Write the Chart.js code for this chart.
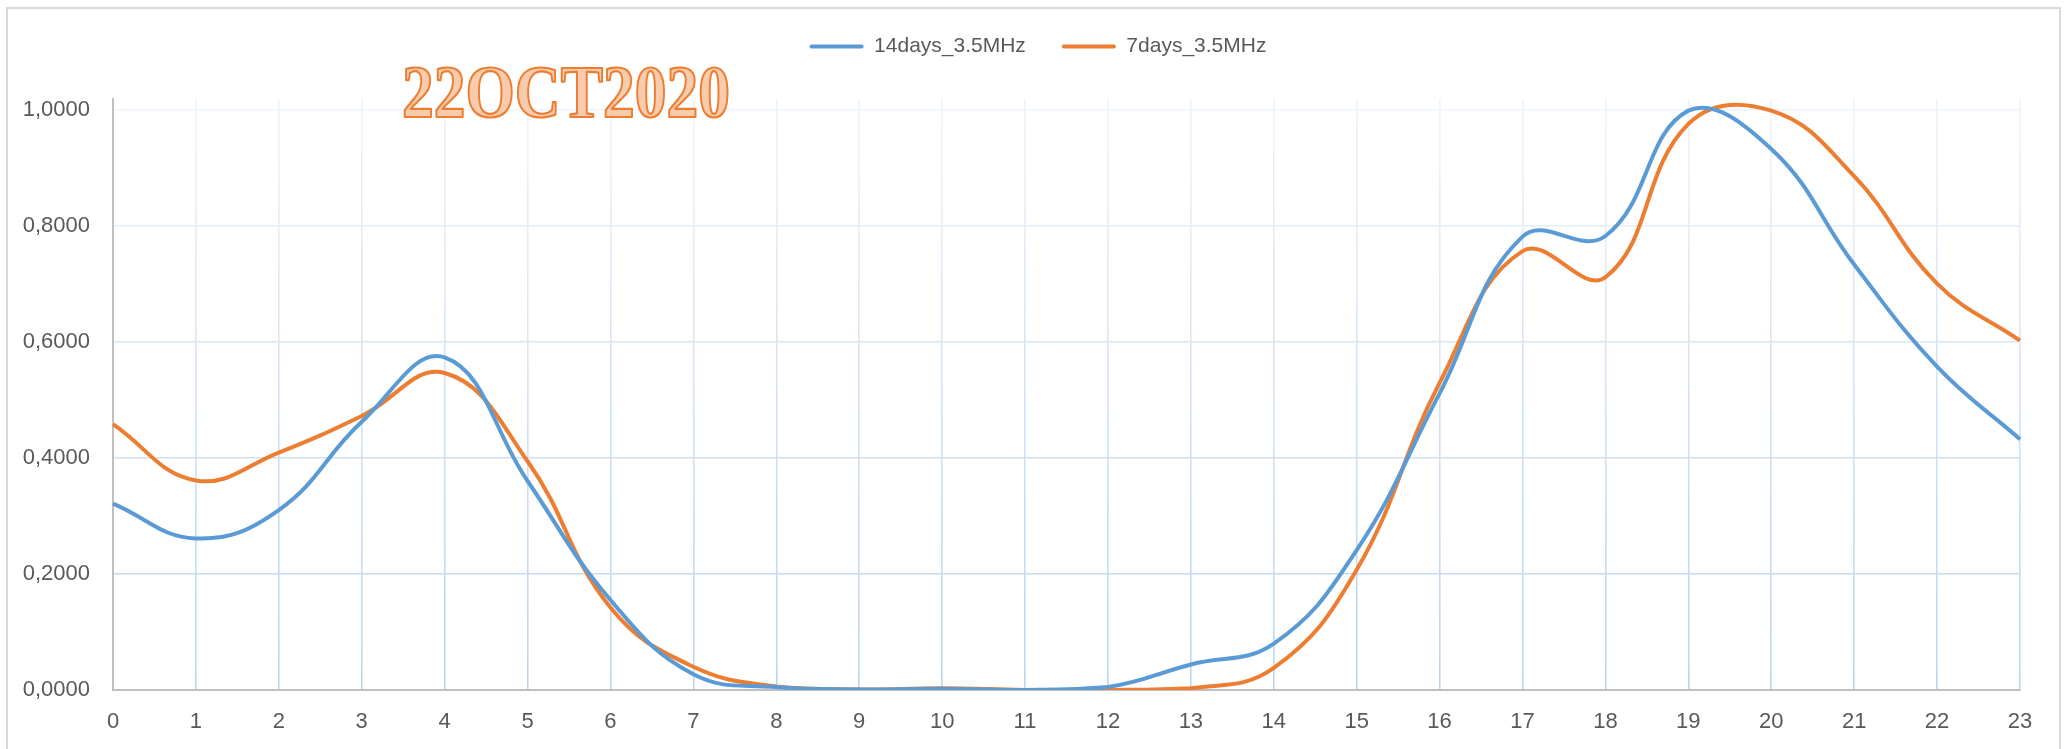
<!DOCTYPE html>
<html>
<head>
<meta charset="utf-8">
<title>22OCT2020</title>
<script src="https://cdn.jsdelivr.net/npm/chart.js@4.4.1/dist/chart.umd.min.js"></script>
<style>
  html, body { margin: 0; padding: 0; background: #ffffff; overflow: hidden; }
  #wrap { position: absolute; left: 0; top: 0; width: 2067px; height: 749px; }
  #frame { position: absolute; left: 6px; top: 7px; width: 2055px; height: 800px;
           border: 2px solid #D9D9D9; box-sizing: border-box; pointer-events: none; }
</style>
</head>
<body>
<div id="wrap">
  <canvas id="chart" width="2067" height="749"></canvas>
  <div id="frame"></div>
</div>
<script>
// hours of the day
const hours = ['0','1','2','3','4','5','6','7','8','9','10','11','12','13','14','15','16','17','18','19','20','21','22','23'];

// series values
const days14 = [0.321, 0.261, 0.310, 0.462, 0.573, 0.360, 0.155, 0.027, 0.005, 0.001, 0.002, 0.000,
                0.005, 0.044, 0.080, 0.241, 0.511, 0.781, 0.782, 0.998, 0.932, 0.733, 0.557, 0.432];
const days7  = [0.458, 0.361, 0.409, 0.472, 0.546, 0.394, 0.142, 0.040, 0.006, 0.001, 0.003, 0.000,
                0.000, 0.003, 0.038, 0.207, 0.529, 0.756, 0.711, 0.975, 0.998, 0.885, 0.700, 0.602];

// y tick labels
const yTicks = [0, 0.2, 0.4, 0.6, 0.8, 1.0];

const seriesNames = ['14days_3.5MHz', '7days_3.5MHz'];
const seriesColors = ['#5B9BD5', '#ED7D31'];
const titleText = '22OCT2020';

// grid gets lighter towards the top, like the original
function gridGradient(ctx) {
    const chart = ctx.chart;
    const area = chart.chartArea;
    if (!area) return '#CFE0F2';
    const g = chart.ctx.createLinearGradient(0, area.top, 0, area.bottom);
    g.addColorStop(0, '#EEF4FB');
    g.addColorStop(0.5, '#D3E3F3');
    g.addColorStop(1, '#BCD5EE');
    return g;
}

// stamp title, drawn like a word-art text box
const titlePlugin = {
    id: 'stampTitle',
    afterDraw(chart) {
        const ctx = chart.ctx;
        ctx.save();
        ctx.font = 'bold 73px "Liberation Serif", "DejaVu Serif", serif';
        ctx.textBaseline = 'alphabetic';
        const w = ctx.measureText(titleText).width;
        ctx.translate(402, 117);
        ctx.scale(328 / w, 1);
        ctx.fillStyle = '#F8CBAD';
        ctx.fillText(titleText, 0, 0);
        ctx.lineWidth = 2.2;
        ctx.strokeStyle = '#ED7D31';
        ctx.lineJoin = 'round';
        ctx.strokeText(titleText, 0, 0);
        ctx.restore();
    }
};

// fix the legend height so the plot starts at the right place,
// and nudge it a little to the right like the original
const legendPlugin = {
    id: 'legendTweak',
    beforeInit(chart) {
        const legend = chart.legend;
        const origFit = legend.fit;
        legend.fit = function fit() {
            origFit.bind(legend)();
            this.height = 99;
        };
        const origDraw = legend.draw;
        legend.draw = function draw() {
            chart.ctx.save();
            chart.ctx.translate(28, 0);
            origDraw.bind(legend)();
            chart.ctx.restore();
        };
    }
};

const ctx = document.getElementById('chart').getContext('2d');
new Chart(ctx, {
    type: 'line',
    data: {
        labels: hours,
        datasets: [
            {
                label: seriesNames[0],
                data: days14,
                borderColor: seriesColors[0],
                backgroundColor: seriesColors[0],
                borderWidth: 4,
                pointRadius: 0,
                tension: 0.42,
                fill: false
            },
            {
                label: seriesNames[1],
                data: days7,
                borderColor: seriesColors[1],
                backgroundColor: seriesColors[1],
                borderWidth: 4,
                pointRadius: 0,
                tension: 0.42,
                fill: false
            }
        ]
    },
    options: {
        responsive: false,
        animation: false,
        devicePixelRatio: 1,
        layout: { padding: { top: 0, left: 0, right: 47, bottom: 0 } },
        plugins: {
            tooltip: { enabled: false },
            legend: {
                display: true,
                position: 'top',
                labels: {
                    boxWidth: 54,
                    boxHeight: 4,
                    padding: 36,
                    color: '#595959',
                    font: { family: '"Liberation Sans", Arial, sans-serif', size: 21 },
                    generateLabels(chart) {
                        const items = Chart.defaults.plugins.legend.labels.generateLabels(chart);
                        items.forEach(it => {
                            it.fillStyle = it.strokeStyle;
                            it.lineWidth = 0;
                            it.borderRadius = 2;
                        });
                        return items;
                    }
                }
            }
        },
        scales: {
            x: {
                type: 'category',
                offset: false,
                grid: {
                    color: gridGradient,
                    lineWidth: 1.6,
                    drawTicks: false
                },
                border: { color: '#BFBFBF', width: 2 },
                ticks: {
                    color: '#595959',
                    padding: 19,
                    maxRotation: 0,
                    autoSkip: false,
                    font: { family: '"Liberation Sans", Arial, sans-serif', size: 22 }
                },
                afterFit(scale) { scale.height = 59; }
            },
            y: {
                min: 0,
                max: 1.018,
                grid: {
                    color: gridGradient,
                    lineWidth: 1.6,
                    drawTicks: false
                },
                border: { color: '#BFBFBF', width: 2 },
                afterBuildTicks(scale) {
                    scale.ticks = yTicks.map(v => ({ value: v }));
                },
                ticks: {
                    color: '#595959',
                    padding: 23,
                    font: { family: '"Liberation Sans", Arial, sans-serif', size: 22 },
                    callback: v => Number(v).toFixed(4).replace('.', ',')
                },
                afterFit(scale) { scale.width = 113; }
            }
        }
    },
    plugins: [legendPlugin, titlePlugin]
});
</script>
</body>
</html>
